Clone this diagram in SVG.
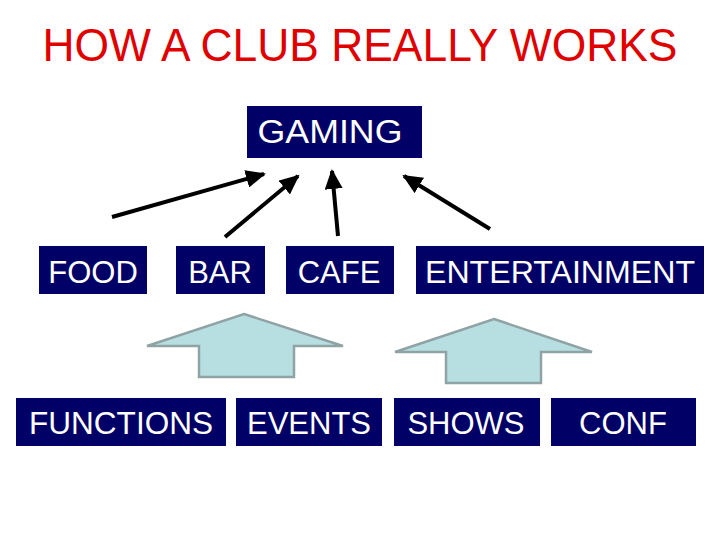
<svg xmlns="http://www.w3.org/2000/svg" width="720" height="540" viewBox="0 0 720 540">
<style>
.box{fill:#000066}
.lbl{fill:#ffffff;font-family:"Liberation Sans",Arial,sans-serif;font-size:31px;text-anchor:middle}
.title{fill:#e00000;font-family:"Liberation Sans",Arial,sans-serif;font-size:46px;text-anchor:middle}
.con{stroke:#000;stroke-width:4;fill:none;marker-end:url(#ah)}
.blk{fill:#b7dfe1;stroke:#8fa3a5;stroke-width:2.5}
</style>
<defs>
<marker id="ah" markerUnits="userSpaceOnUse" markerWidth="22" markerHeight="18" refX="18" refY="9" orient="auto">
<path d="M0,0 L20,9 L0,18 Z" fill="#000"/>
</marker>
</defs>
<rect width="720" height="540" fill="#fff"/>
<text class="title" x="360" y="61" textLength="635" lengthAdjust="spacingAndGlyphs">HOW A CLUB REALLY WORKS</text>
<g id="gaming"><rect class="box" x="247" y="106" width="175" height="52"/><text class="lbl" x="330" y="143" style="font-size:33px" textLength="145" lengthAdjust="spacingAndGlyphs">GAMING</text></g>
<g id="food"><rect class="box" x="39" y="246" width="108" height="48"/><text class="lbl" x="93" y="283">FOOD</text></g>
<g id="bar"><rect class="box" x="176" y="246" width="89" height="48"/><text class="lbl" x="220" y="283">BAR</text></g>
<g id="cafe"><rect class="box" x="286" y="246" width="108" height="48"/><text class="lbl" x="339" y="283">CAFE</text></g>
<g id="entertainment"><rect class="box" x="416" y="246" width="288" height="48"/><text class="lbl" x="560" y="283" textLength="270" lengthAdjust="spacingAndGlyphs">ENTERTAINMENT</text></g>
<g id="functions"><rect class="box" x="16" y="398" width="210" height="48"/><text class="lbl" x="121" y="434" textLength="184" lengthAdjust="spacingAndGlyphs">FUNCTIONS</text></g>
<g id="events"><rect class="box" x="236" y="398" width="146" height="48"/><text class="lbl" x="309" y="434">EVENTS</text></g>
<g id="shows"><rect class="box" x="394" y="398" width="146" height="48"/><text class="lbl" x="466" y="434">SHOWS</text></g>
<g id="conf"><rect class="box" x="551" y="398" width="145" height="48"/><text class="lbl" x="623" y="434">CONF</text></g>
<g id="connectors">
<line class="con" x1="112" y1="217" x2="264" y2="174"/>
<line class="con" x1="225" y1="237" x2="298" y2="176"/>
<line class="con" x1="338" y1="236" x2="332" y2="171"/>
<line class="con" x1="490" y1="229" x2="404" y2="176"/>
<path class="blk" d="M244,314 L343,346 L294,346 L294,377 L199,377 L199,346 L147,346 Z"/>
<path class="blk" d="M494,319 L592,352 L541,352 L541,383 L446,383 L446,352 L395,352 Z"/>
</g>
</svg>
